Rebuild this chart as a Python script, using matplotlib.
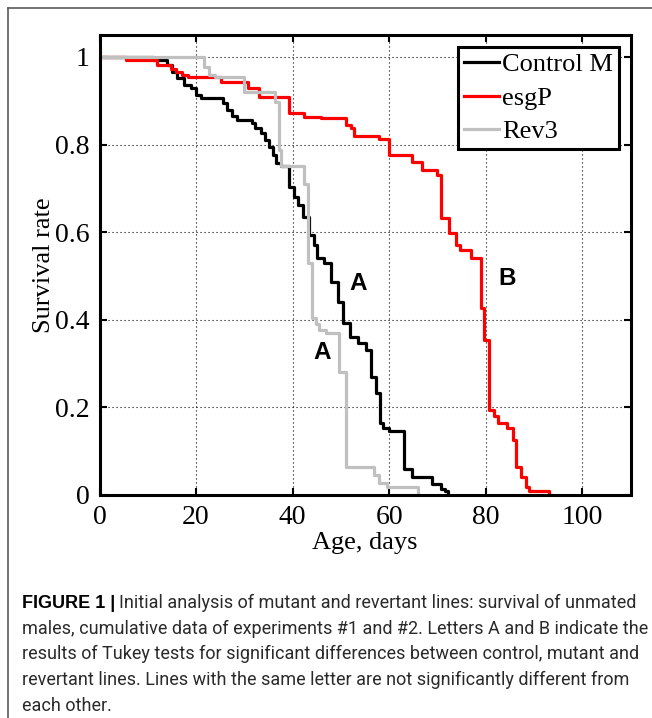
import matplotlib
matplotlib.use('Agg')
import matplotlib.pyplot as plt
from matplotlib import font_manager
from matplotlib.lines import Line2D

# survival curves (day of change, survival after it)
ctrlDays = [0, 11, 14, 15, 16, 17.5, 19, 20, 21, 25.5, 26.5, 27.5, 28.5, 31.5, 32.2, 33.5,
            34.2, 35.2, 36, 36.6, 37.5, 39.2, 40.3, 41.2, 42.2, 43.4, 44.4, 45, 46.5, 48,
            49.5, 50.4, 51.8, 53.5, 55.3, 56.3, 57.2, 58.1, 58.8, 60, 63.1, 64.7, 68.9,
            70.7, 71.5, 72.2]
ctrlSurv = [1.0, 0.993, 0.981, 0.966, 0.951, 0.936, 0.928, 0.913, 0.907, 0.894, 0.879, 0.864,
            0.855, 0.849, 0.837, 0.826, 0.811, 0.795, 0.776, 0.757, 0.75, 0.704, 0.681, 0.662,
            0.635, 0.593, 0.57, 0.542, 0.53, 0.487, 0.44, 0.393, 0.361, 0.348, 0.33, 0.27,
            0.232, 0.164, 0.153, 0.146, 0.06, 0.04, 0.024, 0.013, 0.008, 0.0]

esgDays = [0, 5.5, 12, 14.8, 15.8, 17, 18.3, 25.2, 30.8, 33.1, 39.3, 42.4, 45.9, 51, 52, 52.8,
           58, 60, 64.8, 66.9, 70, 70.7, 72.4, 73.8, 74.6, 76.9, 79, 79.7, 80.7, 81.8, 82.5,
           84.5, 85.6, 86.3, 87.3, 88.3, 89, 93.2]
esgSurv = [1.0, 0.993, 0.981, 0.973, 0.966, 0.958, 0.955, 0.943, 0.928, 0.909, 0.871, 0.863,
           0.86, 0.845, 0.837, 0.82, 0.812, 0.776, 0.761, 0.742, 0.73, 0.632, 0.597, 0.571,
           0.559, 0.54, 0.426, 0.354, 0.194, 0.18, 0.164, 0.153, 0.126, 0.065, 0.042, 0.019,
           0.008, 0.0]

revDays = [0, 21.7, 22.7, 24, 30, 36.3, 37.1, 37.6, 42.3, 43.1, 44.1, 44.8, 45.5, 47, 49.7,
           51, 56.8, 58, 59.5, 66]
revSurv = [1.0, 0.978, 0.959, 0.955, 0.921, 0.898, 0.788, 0.75, 0.711, 0.529, 0.403, 0.39,
           0.377, 0.37, 0.28, 0.065, 0.046, 0.027, 0.019, 0.0]

seriesNames = ['Control M', 'esgP', 'Rev3']
seriesColors = ['black', '#ff0000', '#c0c0c0']

# Tukey letters
letters = ['A', 'A', 'B']
letterDay = [53.6, 46.2, 84.5]
letterSurv = [0.483, 0.326, 0.494]

xTicks = [0, 20, 40, 60, 80, 100]
yTicks = [0, 0.2, 0.4, 0.6, 0.8, 1]
yTickLabels = ['0', '0.2', '0.4', '0.6', '0.8', '1']

captionBold = 'FIGURE 1 |'
captionLines = ['Initial analysis of mutant and revertant lines: survival of unmated',
                'males, cumulative data of experiments #1 and #2. Letters A and B indicate the',
                'results of Tukey tests for significant differences between control, mutant and',
                'revertant lines. Lines with the same letter are not significantly different from',
                'each other.']


def pickFont(names):
    for n in names:
        try:
            font_manager.findfont(n, fallback_to_default=False)
            return n
        except Exception:
            pass
    return 'DejaVu Sans'


serif = pickFont(['Liberation Serif', 'DejaVu Serif'])
capFont = pickFont(['Liberation Sans Narrow', 'Roboto', 'Liberation Sans'])

W, H = 652, 718
fig = plt.figure(figsize=(W / 100, H / 100), dpi=100)

# frame of the figure panel (top and left edges only, rest is cropped)
fig.add_artist(Line2D([8 / W, 1], [1 - 8 / H, 1 - 8 / H], color='#5a5a5a', lw=1.2))
fig.add_artist(Line2D([8 / W, 8 / W], [0, 1 - 8 / H], color='#5a5a5a', lw=1.2))

axL, axR, axT, axB = 99.5, 630.5, 35, 495
ax = fig.add_axes([axL / W, 1 - axB / H, (axR - axL) / W, (axB - axT) / H])

allDays = [ctrlDays, esgDays, revDays]
allSurv = [ctrlSurv, esgSurv, revSurv]
for d, s, name, c in zip(allDays, allSurv, seriesNames, seriesColors):
    ax.plot(d, s, drawstyle='steps-post', color=c, lw=2.3, label=name, zorder=3)

for t, xd, ys in zip(letters, letterDay, letterSurv):
    ax.text(xd, ys, t, fontsize=17.5, fontweight='bold', family='Liberation Sans',
            ha='center', va='center', zorder=4)

ax.set_xlim(0, 110)
ax.set_ylim(0, 1.05)
ax.set_xticks(xTicks)
ax.set_yticks(yTicks)
ax.set_yticklabels(yTickLabels)
ax.grid(True, color='black', linestyle=(0, (1, 2.6)), linewidth=0.8)
ax.set_axisbelow(True)
for sp in ax.spines.values():
    sp.set_linewidth(2.2)
    sp.set_zorder(5)
ax.tick_params(direction='in', length=5, width=1.5, top=True, right=True,
               labelsize=20, pad=7)
for lab in ax.get_xticklabels() + ax.get_yticklabels():
    lab.set_family(serif)

ax.set_xlabel('Age, days', fontsize=19, family=serif, labelpad=2)
ax.set_ylabel('Survival rate', fontsize=19, family=serif, labelpad=0)

leg = ax.legend(loc='upper right', bbox_to_anchor=(0.978, 0.974), borderaxespad=0,
                prop={'family': serif, 'size': 19}, handlelength=1.35, handletextpad=0.1,
                labelspacing=0.38, borderpad=0.22, fancybox=False, framealpha=1,
                edgecolor='black')
leg.get_frame().set_linewidth(2.2)
leg.set_zorder(6)

# caption, bold lead-in then regular text
fig.canvas.draw()
capX = 22 / W
capY0 = 603
lineStep = 25.7
capSize = 13
b = fig.text(capX, 1 - capY0 / H, captionBold, fontsize=capSize, fontweight='bold',
             family='Liberation Sans', va='center', ha='left')
fig.canvas.draw()
bb = b.get_window_extent()
fig.text((bb.x1 + 4) / W, 1 - capY0 / H, captionLines[0], fontsize=capSize, family=capFont,
         va='center', ha='left', color='#2a2a2a')
for i, line in enumerate(captionLines[1:], start=1):
    fig.text(capX, 1 - (capY0 + i * lineStep) / H, line, fontsize=capSize, family=capFont,
             va='center', ha='left', color='#2a2a2a')

fig.savefig('out.png', dpi=100)
